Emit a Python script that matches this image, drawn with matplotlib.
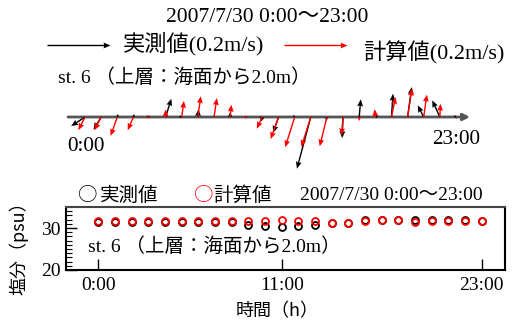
import matplotlib
matplotlib.use('Agg')
import matplotlib.pyplot as plt
from matplotlib.ticker import MultipleLocator, FixedLocator

# ---------------- data ----------------
hours = list(range(24))
# current vectors (m/s): observed (実測値) and computed (計算値)
obs_u = [-0.044, -0.024, 0.003, 0.003, -0.010, 0.018, -0.010, 0.002, 0.000, 0.000, 0.003, -0.006,
         -0.017, -0.006, -0.044, -0.003, -0.003, 0.005, 0.010, 0.005, 0.013, -0.019, -0.024, -0.008]
obs_v = [-0.029, -0.040, 0.010, 0.010, 0.003, 0.058, 0.003, 0.025, 0.006, 0.016, 0.000, -0.016,
         -0.050, 0.006, -0.164, -0.013, -0.067, 0.056, 0.006, 0.074, 0.095, 0.037, 0.053, 0.005]
calc_u = [-0.021, -0.021, -0.021, -0.018, -0.010, 0.000, 0.007, 0.009, 0.009, 0.004, -0.010, -0.018,
          -0.025, -0.030, -0.030, -0.023, -0.005, 0.000, -0.002, 0.013, 0.014, 0.010, 0.002, 0.003]
calc_v = [-0.042, -0.042, -0.060, -0.042, -0.003, 0.024, 0.051, 0.066, 0.060, 0.039, 0.000, -0.037,
          -0.070, -0.096, -0.095, -0.093, -0.058, -0.013, 0.025, 0.063, 0.090, 0.071, 0.042, -0.006]
# salinity (psu)
sal_obs = [31.5, 31.5, 31.5, 31.5, 31.5, 31.5, 31.5, 31.5, 31.5, 30.6, 30.4, 30.2,
           30.4, 30.8, 31.3, 31.3, 31.8, 31.8, 32.0, 32.0, 31.9, 31.9, 31.9, 31.6]
sal_calc = [31.6, 31.6, 31.6, 31.6, 31.6, 31.6, 31.6, 31.6, 31.6, 31.6, 31.6, 31.8,
            31.6, 31.6, 31.3, 31.3, 31.6, 31.8, 31.8, 31.5, 31.6, 31.7, 31.7, 31.6]
xtick_hours = [0, 11, 23]
xtick_labels = ['0:00', '11:00', '23:00']
ref_speed = 0.2
date_label = '2007/7/30 0:00〜23:00'
station_label = 'st. 6 （上層：海面から2.0m）'
obs_name = '実測値'
calc_name = '計算値'

# ---------------- figure ----------------
W, H = 515, 322
fig = plt.figure(figsize=(W / 100, H / 100), dpi=100)
MIX = ['Liberation Serif', 'Noto Sans CJK JP']
JP = ['Noto Sans CJK JP', 'Liberation Serif']


def fx(px):
    return px / W


def fy(py):
    return 1 - py / H


# ---- stick (vector) plot ----
axq = fig.add_axes([fx(60), fy(147), fx(480) - fx(60), fy(87) - fy(147)])
axq.set_xlim(-1.55, 24.49)
axq.set_ylim(-1, 1)
axq.axis('off')

axq.annotate('', xy=(23.87, 0), xytext=(-1.05, 0),
             arrowprops=dict(arrowstyle='-|>', color='#555555', lw=2,
                             mutation_scale=10, shrinkA=0, shrinkB=0),
             zorder=1)

qkw = dict(angles='uv', scale_units='dots', scale=ref_speed / 63.0, units='dots',
           width=1.4, headwidth=4.2, headlength=5, headaxislength=4.5)
zeros = [0] * len(hours)
Qo = axq.quiver(hours, zeros, obs_u, obs_v, color='black', zorder=3, **qkw)
Qc = axq.quiver(hours, zeros, calc_u, calc_v, color='red', zorder=4, **qkw)
Qo.set_clip_on(False)
Qc.set_clip_on(False)

fig.text(fx(86), fy(146), xtick_labels[0], family=MIX, fontsize=15.3, ha='center', va='center')
fig.text(fx(456), fy(140), xtick_labels[-1], family=MIX, fontsize=15.3, ha='center', va='center')

# legends with reference arrows
axq.quiverkey(Qo, fx(110), fy(45), ref_speed, '', labelpos='E', coordinates='figure', color='black')
axq.quiverkey(Qc, fx(347), fy(45), ref_speed, '', labelpos='E', coordinates='figure', color='red')
fig.text(fx(123), fy(44), obs_name + '(%.1fm/s)' % ref_speed, family=MIX, fontsize=16,
         ha='left', va='center')
fig.text(fx(363), fy(53), calc_name + '(%.1fm/s)' % ref_speed, family=MIX, fontsize=16,
         ha='left', va='center')

fig.text(fx(267), fy(18), date_label, family=MIX, fontsize=15.5, ha='center', va='center')
fig.text(fx(58), fy(78), station_label, family=MIX, fontsize=14, ha='left', va='center')

# ---- salinity plot ----
ax = fig.add_axes([fx(66), fy(270), fx(505) - fx(66), fy(207) - fy(270)])
ax.plot(hours, sal_obs, 'o', mfc='none', mec='black', ms=5, mew=1.3, zorder=3)
ax.plot(hours, sal_calc, 'o', mfc='none', mec='red', ms=5, mew=1.3, zorder=4)
ax.set_xlim(-1.94, 24.4)
ax.set_ylim(20, 35)
ax.xaxis.set_major_locator(FixedLocator(xtick_hours))
ax.set_xticklabels(xtick_labels)
ax.yaxis.set_major_locator(MultipleLocator(10))
ax.yaxis.set_minor_locator(MultipleLocator(1))
ax.tick_params(axis='both', which='major', direction='in', length=8, width=1, labelsize=14, pad=4)
ax.tick_params(axis='y', which='minor', direction='in', length=4, width=0.8)
ax.tick_params(axis='x', which='major', top=False, pad=5)
for lab in ax.get_xticklabels() + ax.get_yticklabels():
    lab.set_family(MIX)
for s in ax.spines.values():
    s.set_linewidth(1.5)
ax.spines['top'].set_color('#444444')

ax.set_xlabel('時間（h）', family=JP, fontsize=13)
ax.xaxis.label.set_va('center')
ax.xaxis.set_label_coords((277 - 66) / (505 - 66), -(311 - 270) / 63)
ax.set_ylabel('塩分（psu）', family=JP, fontsize=13)
ax.yaxis.label.set_va('center')
ax.yaxis.set_label_coords((19 - 66) / (505 - 66), (270 - 244) / 63)

ax.text(fx(88), fy(247), station_label, transform=fig.transFigure, family=MIX,
        fontsize=14, ha='left', va='center')

# bottom legend row
fig.text(fx(88), fy(195), '○', family=JP, fontsize=14, color='black', ha='center', va='center')
fig.text(fx(100), fy(195), obs_name, family=JP, fontsize=14, ha='left', va='center')
fig.text(fx(204), fy(195), '○', family=JP, fontsize=14, color='red', ha='center', va='center')
fig.text(fx(213), fy(195), calc_name, family=JP, fontsize=14, ha='left', va='center')
fig.text(fx(300), fy(195), date_label, family=MIX, fontsize=14, ha='left', va='center')

fig.savefig('out.png', dpi=100)
